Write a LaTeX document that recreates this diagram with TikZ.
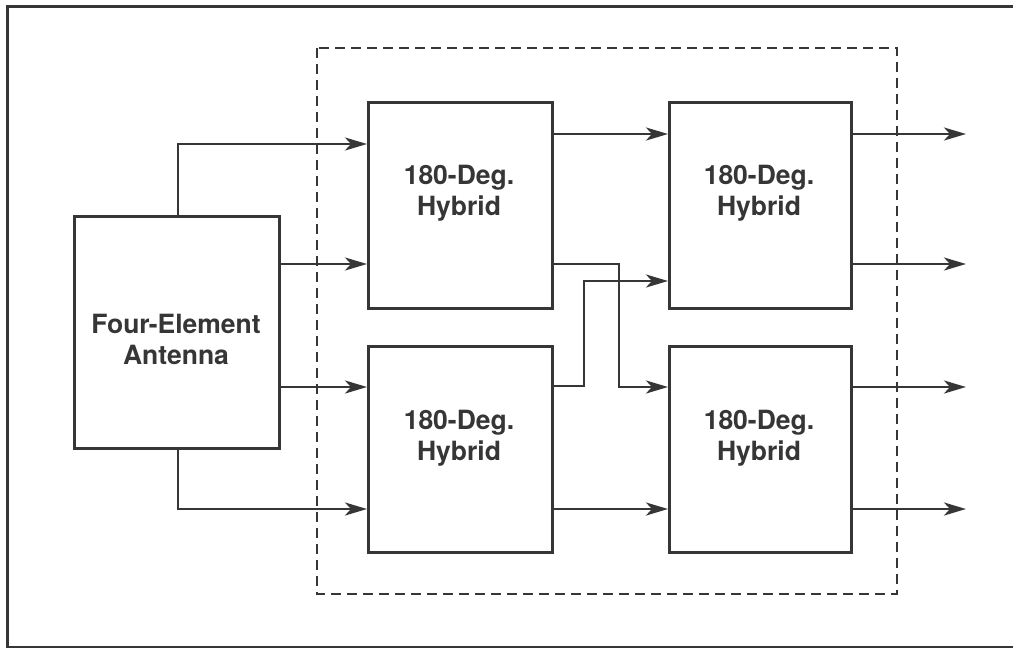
\documentclass[tikz,border=0pt]{standalone}
\usepackage{fontspec}
\setmainfont{TeX Gyre Heros}
\usetikzlibrary{arrows.meta}
\definecolor{ink}{HTML}{363636}
\tikzset{
  blk/.style={draw=ink, line width=2.7pt, fill=white, inner sep=0pt, anchor=north west},
  lbl/.style={text=ink, font=\fontsize{26.5}{31}\selectfont\bfseries, align=center, inner sep=0pt},
  wire/.style={draw=ink, line width=2.7pt},
  arr/.style={wire, -{Stealth[length=22pt,width=13pt,inset=6pt]}},
  frame/.style={draw=ink, line width=3pt},
  group/.style={draw=ink, line width=2.5pt, dash pattern=on 10pt off 6pt}
}
\begin{document}
\begin{tikzpicture}[x=1pt,y=-1pt]
\useasboundingbox (0,0) rectangle (1013,648);
\clip (0,0) rectangle (1013,648);
\draw[frame] (7,6) rectangle (1030,647);
\draw[group] (317,48) rectangle (897,594);
% blocks
\node[blk, minimum width=205pt, minimum height=232pt] (ant) at (73,215) {};
\node[blk, minimum width=184pt, minimum height=206pt] (h1) at (367,101) {};
\node[blk, minimum width=182pt, minimum height=206pt] (h2) at (668,101) {};
\node[blk, minimum width=184pt, minimum height=206pt] (h3) at (367,345) {};
\node[blk, minimum width=182pt, minimum height=206pt] (h4) at (668,345) {};
% labels
\node[lbl] (tant) at (176,339) {Four-Element\\Antenna};
\node[lbl] (th1) at (459,193) {180-Deg.\\Hybrid};
\node[lbl] (th2) at (759,193) {180-Deg.\\Hybrid};
\node[lbl] (th3) at (459,438) {180-Deg.\\Hybrid};
\node[lbl] (th4) at (759,438) {180-Deg.\\Hybrid};
% output end points
\coordinate (o1) at (966,134);
\coordinate (o2) at (966,264);
\coordinate (o3) at (966,387);
\coordinate (o4) at (966,509);
% antenna to first stage
\draw[arr] (ant.north -| 178,0) |- (h1.west |- 0,144);
\draw[arr] (ant.east |- 0,264) -- (h1.west |- 0,264);
\draw[arr] (ant.east |- 0,387) -- (h3.west |- 0,387);
\draw[arr] (ant.south -| 178,0) |- (h3.west |- 0,509);
% first to second stage
\draw[arr] (h1.east |- 0,134) -- (h2.west |- 0,134);
\draw[arr] (h1.east |- 0,264) -- (619,264) -- (619,387) -- (h4.west |- 0,387);
\draw[arr] (h3.east |- 0,386) -- (584,386) -- (584,281) -- (h2.west |- 0,281);
\draw[arr] (h3.east |- 0,509) -- (h4.west |- 0,509);
% outputs
\draw[arr] (h2.east |- o1) -- (o1);
\draw[arr] (h2.east |- o2) -- (o2);
\draw[arr] (h4.east |- o3) -- (o3);
\draw[arr] (h4.east |- o4) -- (o4);
\end{tikzpicture}
\end{document}
